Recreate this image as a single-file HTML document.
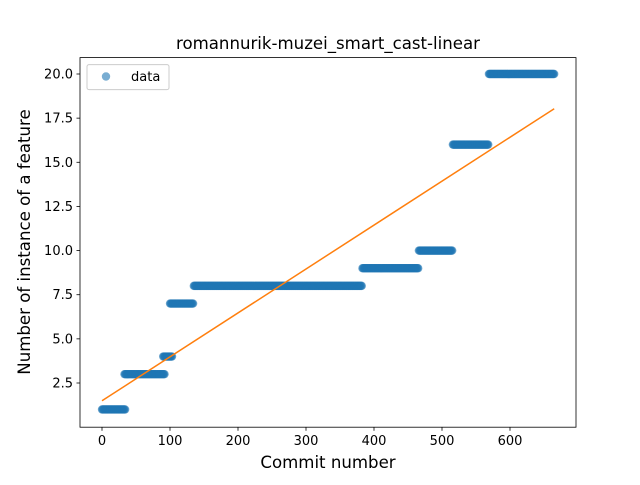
<!DOCTYPE html>
<html><head><meta charset="utf-8"><style>
body{margin:0;background:#fff}
svg{font-family:"DejaVu Sans","Liberation Sans",sans-serif}
</style></head><body>
<svg id="chart" width="640" height="480" xmlns="http://www.w3.org/2000/svg">
<rect width="640" height="480" fill="#fff"/>
<g id="plot"></g>
<g id="axes"></g>
</svg>
<script>
const segStart=[0,33,90,100,135,383,466,516,569];
const segEnd=[35,93,104,135,383,466,516,569,666];
const segValue=[1,3,4,7,8,9,10,16,20];
const xTicks=[0,100,200,300,400,500,600];
const yTicks=[2.5,5.0,7.5,10.0,12.5,15.0,17.5,20.0];
const NS="http://www.w3.org/2000/svg";
const L=80,R=576,T=57.6,B=427.2;
const xs=v=>102+v*0.68;
const ys=v=>383-(v-2.5)*(309/17.5);
function mk(tag,attrs,parent){const e=document.createElementNS(NS,tag);for(const k in attrs)e.setAttribute(k,attrs[k]);parent.appendChild(e);return e;}
const plot=document.getElementById('plot'),axes=document.getElementById('axes');
const px=[],py=[];
for(let s=0;s<segStart.length;s++){for(let i=segStart[s];i<segEnd[s];i++){px.push(i);py.push(segValue[s]);}}
const pts=mk('g',{},plot);

for(let i=0;i<px.length;i++){const c=mk('circle',{cx:xs(px[i]),cy:ys(py[i]),r:4.2,fill:'#1f77b4','fill-opacity':0.6},pts);
}
let n=px.length,mx=0,my=0;for(let i=0;i<n;i++){mx+=px[i];my+=py[i];}mx/=n;my/=n;
let sxy=0,sxx=0;for(let i=0;i<n;i++){sxy+=(px[i]-mx)*(py[i]-my);sxx+=(px[i]-mx)**2;}
const sl=sxy/sxx,ic=my-sl*mx;const x0=px[0],x1=px[n-1];
const ln=mk('line',{x1:xs(x0),y1:ys(ic+sl*x0),x2:xs(x1),y2:ys(ic+sl*x1),stroke:'#ff7f0e','stroke-width':1.5},plot);

const fr=mk('rect',{x:L,y:T,width:R-L,height:B-T,fill:'none',stroke:'#000','stroke-width':0.8},axes);

xTicks.forEach(v=>{const x=xs(v);mk('line',{x1:x,y1:B,x2:x,y2:B+3.5,stroke:'#000','stroke-width':0.8},axes);
const t=mk('text',{x:x,y:B+18,'font-size':13,'text-anchor':'middle'},axes);t.textContent=v;
});
yTicks.forEach(v=>{const y=ys(v);mk('line',{x1:L-3.5,y1:y,x2:L,y2:y,stroke:'#000','stroke-width':0.8},axes);
const t=mk('text',{x:L-7,y:y+4.5,'font-size':13,'text-anchor':'end'},axes);t.textContent=v.toFixed(1);
});
</script>
<svg style="position:absolute;left:0;top:0" width="640" height="480" xmlns="http://www.w3.org/2000/svg">
<text x="328" y="49" font-size="16.6" text-anchor="middle" font-family="DejaVu Sans, Liberation Sans, sans-serif">romannurik-muzei_smart_cast-linear</text>
<text x="328" y="468" font-size="16.6" text-anchor="middle" font-family="DejaVu Sans, Liberation Sans, sans-serif">Commit number</text>
<text transform="translate(30,242) rotate(-90)" font-size="16.6" text-anchor="middle" font-family="DejaVu Sans, Liberation Sans, sans-serif">Number of instance of a feature</text>
<g>
<rect x="87" y="64.6" width="82" height="25" rx="2" fill="#fff" fill-opacity="0.8" stroke="#ccc"/>
<circle cx="106" cy="76.5" r="4.2" fill="#1f77b4" fill-opacity="0.6"/>
<text x="131" y="81" font-size="13" font-family="DejaVu Sans, Liberation Sans, sans-serif">data</text>
</g>
</svg>
</body></html>
